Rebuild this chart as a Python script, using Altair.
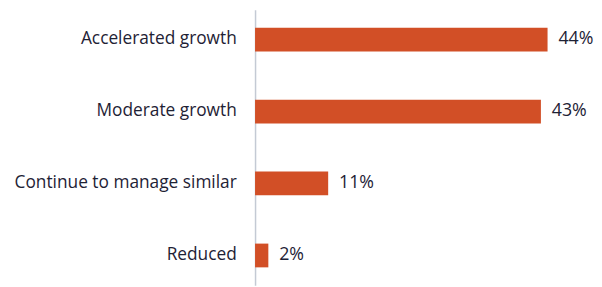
import altair as alt
import pandas as pd

categories = ["Accelerated growth", "Moderate growth", "Continue to manage similar", "Reduced"]
values = [44, 43, 11, 2]
labels = ["44%", "43%", "11%", "2%"]

df = pd.DataFrame({"category": categories, "value": values, "label": labels})

y_enc = alt.Y(
    "category:N",
    sort=categories,
    title=None,
    scale=alt.Scale(paddingInner=0.67, paddingOuter=0.25),
    axis=alt.Axis(
        ticks=False,
        labelFontSize=17.5,
        labelFont="Open Sans",
        labelColor="#1e2235",
        labelPadding=19,
        domainColor="#c4cad4",
        domainWidth=1.5,
        labelLimit=400,
    ),
)
x_enc = alt.X("value:Q", scale=alt.Scale(domain=[0, 44], nice=False), axis=None)

bars = alt.Chart(df).mark_bar(color="#d24f26").encode(y=y_enc, x=x_enc)
text = alt.Chart(df).mark_text(
    align="left", dx=11, fontSize=18, font="Open Sans", fontWeight=500, color="#1e2235"
).encode(y=alt.Y("category:N", sort=categories), x="value:Q", text="label:N")

chart = (
    alt.layer(bars, text)
    .properties(
        width=296,
        height=279,
        padding={"left": 5, "top": 0, "right": 0, "bottom": 0},
        background="white",
    )
    .configure_view(strokeWidth=0, stroke=None)
)

chart.save("out.html", embed_options={"renderer": "svg", "actions": False})
